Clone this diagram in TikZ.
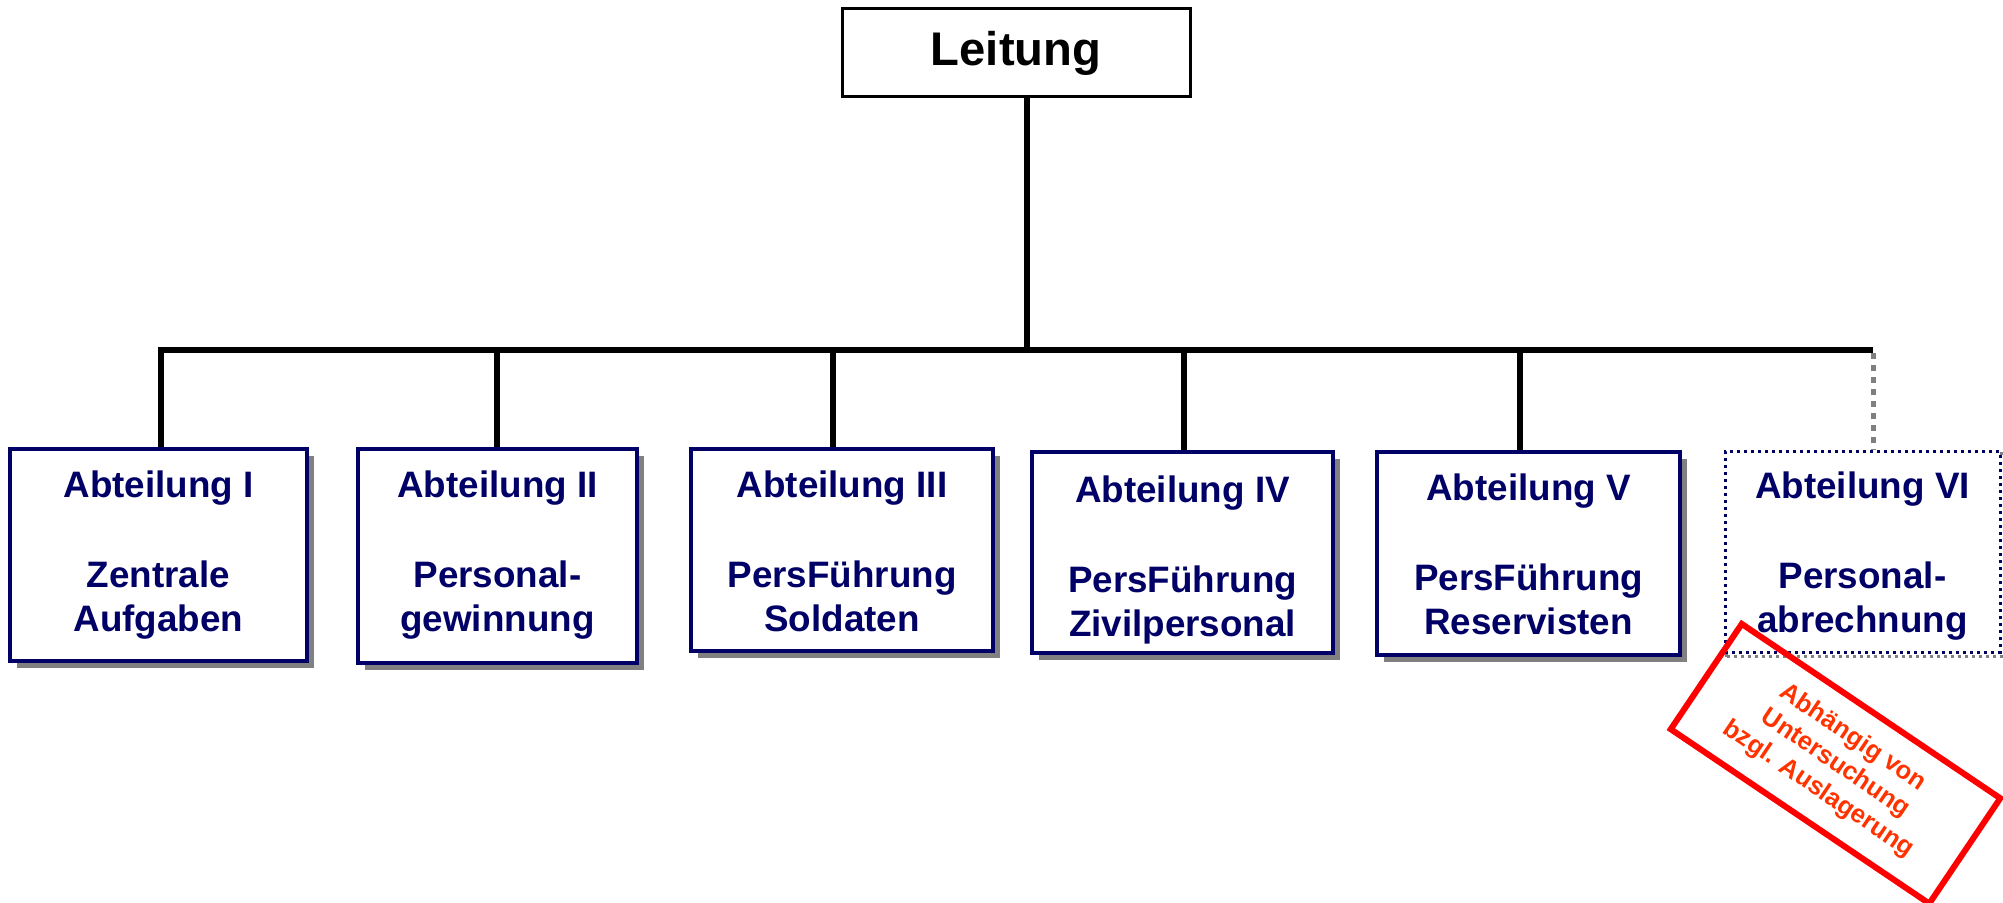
\documentclass[tikz,border=0pt]{standalone}
\usepackage{fontspec}
\setmainfont{Liberation Sans}
\usetikzlibrary{shadows,backgrounds}
\definecolor{navy}{RGB}{0,0,102}
\definecolor{stampred}{RGB}{255,0,0}
\definecolor{stamptext}{RGB}{255,51,0}
\definecolor{shadowgray}{RGB}{128,128,128}
\begin{document}
\begin{tikzpicture}[x=0.5pt,y=-0.5pt,
  connector/.style={line width=3pt, draw=black},
  optconnector/.style={line width=2.5pt, draw=shadowgray, dash pattern=on 3pt off 3pt},
  leitbox/.style={draw=black, line width=1.5pt, fill=white, inner sep=0pt, font=\fontsize{23.6pt}{28pt}\selectfont\bfseries},
  deptbox/.style={draw=navy, line width=2pt, fill=white, inner sep=0pt,
    drop shadow={shadow xshift=3.5pt, shadow yshift=-3.5pt, fill=shadowgray, opacity=1}},
  optbox/.style={draw=navy, line width=1.5pt, fill=white, inner sep=0pt, dash pattern=on 1.5pt off 2pt},
  optshadow/.style={draw=shadowgray, line width=1.5pt, dash pattern=on 1.5pt off 2pt},
  depttext/.style={anchor=north, inner sep=0pt, align=center, text=navy, font=\fontsize{18.4pt}{22pt}\selectfont\bfseries},
  stampbox/.style={draw=stampred, line width=3pt, inner sep=0pt, align=center, text=stamptext, font=\fontsize{12.8pt}{15.5pt}\selectfont\bfseries}
]
\useasboundingbox (0,0) rectangle (2003,903);

% Leitung
\node[leitbox, minimum width=174pt, minimum height=44pt] (leit) at (1016,53) {Leitung};

% department boxes
\node[deptbox, minimum width=148.5pt, minimum height=106pt] (a1) at (158.5,555) {};
\node[deptbox, minimum width=139.5pt, minimum height=107pt] (a2) at (497.5,556) {};
\node[deptbox, minimum width=151pt, minimum height=101pt] (a3) at (842,550) {};
\node[deptbox, minimum width=150.5pt, minimum height=100.5pt] (a4) at (1182.5,552.5) {};
\node[deptbox, minimum width=151.5pt, minimum height=101.5pt] (a5) at (1528.5,553.5) {};
\node[optbox, minimum width=137.5pt, minimum height=100pt] (a6) at (1862.5,552) {};

\node[depttext] (t1) at ([yshift=-11.5pt]a1.north) {Abteilung I\\[23pt]Zentrale\\Aufgaben};
\node[depttext] (t2) at ([yshift=-11.5pt]a2.north) {Abteilung II\\[23pt]Personal-\\gewinnung};
\node[depttext] (t3) at ([yshift=-11.5pt]a3.north) {Abteilung III\\[23pt]PersFührung\\Soldaten};
\node[depttext] (t4) at ([yshift=-12.5pt]a4.north) {Abteilung IV\\[23pt]PersFührung\\Zivilpersonal};
\node[depttext] (t5) at ([yshift=-11.5pt]a5.north) {Abteilung V\\[23pt]PersFührung\\Reservisten};
\node[depttext] (t6) at ([yshift=-10.5pt]a6.north) {Abteilung VI\\[23pt]Personal-\\abrechnung};

% junctions on the bar
\coordinate (top) at ([xshift=5.5pt]leit.south);
\coordinate (j1) at (161,350);
\coordinate (j2) at (497,350);
\coordinate (j3) at (833,350);
\coordinate (j4) at (1184,350);
\coordinate (j5) at (1520,350);
\coordinate (j6) at (1873,350);

\begin{scope}[on background layer]
  \draw[optshadow] ([shift={(1.5pt,-1.5pt)}]a6.south west) rectangle ([shift={(1.5pt,-1.5pt)}]a6.north east);
  \draw[connector] (top) -- (top |- j1);
  \draw[connector, line join=miter] (j1 |- a1.north) -- (j1) -- (j6);
  \draw[connector] (j2) -- (j2 |- a2.north);
  \draw[connector] (j3) -- (j3 |- a3.north);
  \draw[connector] (j4) -- (j4 |- a4.north);
  \draw[connector] (j5) -- (j5 |- a5.north);
  \draw[optconnector] ([yshift=-1.5pt]j6) -- (j6 |- a6.north);
\end{scope}

% stamp
\node[stampbox, rotate=-34, minimum width=155.9pt, minimum height=63.5pt] (stamp) at (1835.5,763.75)
  {Abhängig von\\Untersuchung\\bzgl. Auslagerung};
\end{tikzpicture}
\end{document}
